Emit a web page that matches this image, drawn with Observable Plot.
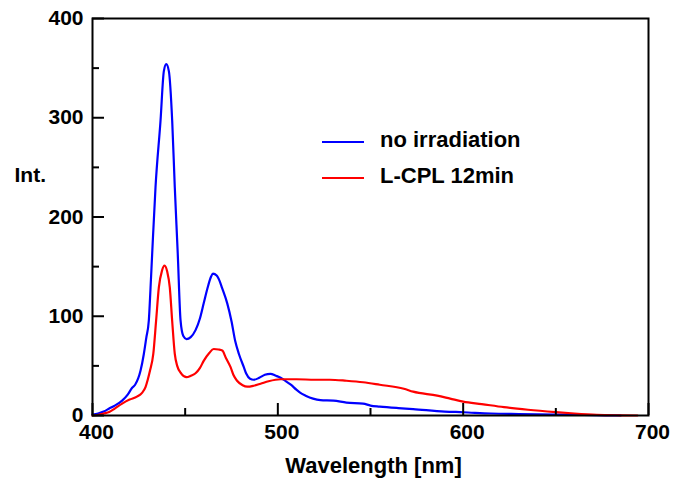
<!DOCTYPE html>
<html>
<head>
<meta charset="utf-8">
<script src="https://cdn.jsdelivr.net/npm/d3@7"></script>
<script src="https://cdn.jsdelivr.net/npm/@observablehq/plot@0.6"></script>
<style>
  body { margin: 0; background: #fff; }
  #wrap { position: relative; width: 675px; height: 479px; font-family: "Liberation Sans", Arial, sans-serif; }
  #legend { position: absolute; left: 322px; top: 122px; font-weight: bold; font-size: 22px; color: #000; }
  #legend .row { display: flex; align-items: center; height: 36px; }
  #legend .sw { width: 42px; height: 0; border-top: 2px solid; margin-right: 16px; margin-top: 3px; }
</style>
</head>
<body>
<div id="wrap"></div>
<script>
// Wavelength (nm) and intensity for each series
const blueWl = [400,403,406,409,412,416,419,421.4,423,425.9,427.7,429,430.4,431.3,432.2,434,436.7,438.5,439.8,441.2,443,444.4,446,447.5,449,450.7,453,455.6,458,460,462,464,465,467,468,470,472.7,475,477,479,481.6,483,485,487,490,493,496,499,501.5,504,507,510,512,515,519,523,530,537,546,550,555,565,573,590,600,615,630,650,665,685];
const blueInt = [1,2,4,7,10,15,21,28,31,45,62,78,96,128,163,230,297,347,354,347,297,230,163,96,80,77,79,86,98,113,128,140,143,141,138,128,113,95,75,62,49,42,37,36,38,41,42,40,38,35,31,26,23,20,17,15.5,15,13,12,10,9,7.5,6.5,4,3.3,2,1.5,1,0.5,0];

const redWl = [400,403,406,409,412,416,420,424,426.6,428.6,429.8,431,432.8,434.3,435.8,437.5,438.9,440.3,441.7,443,444.4,445.7,448,450.7,453,455.6,458,460,463,465.4,468,470,472,474.5,476,478,481,483.5,487,490.7,495,501.5,510,520,528,537,546,555,568,573,586,593,600,610,622,635,650,660,672,685,694];
const redInt = [0,0.5,2,3.5,7,12,16,19,22.5,28.6,36,45,62,95,129,146,151,145,129,95,62,50,42,38.6,40,42.6,48,55,63,67,66.5,65.5,58,48.7,41,35,30.5,29,30,32,34.5,36.5,36.5,36,36,35,33.5,31,27,24,20,17,14,11.5,8.4,5.8,3.4,2,0.7,0.2,0];

const seriesNames = ["no irradiation", "L-CPL 12min"];
const seriesColors = ["#0000ff", "#ff0000"];

const yMajor = [0,100,200,300,400];
const yMinor = [50,150,250,350];
const xMajor = [400,500,600,700];
const xMinor = [450,550,650];

const rows = [
  ...blueWl.map((w,i) => ({wl: w, v: blueInt[i], s: seriesNames[0]})),
  ...redWl.map((w,i) => ({wl: w, v: redInt[i], s: seriesNames[1]}))
];

const W = 675, H = 479, mL = 92, mR = 27, mT = 18, mB = 64;
const fw = W - mL - mR, fh = H - mT - mB;
const font = "Liberation Sans, Arial, sans-serif";

const chart = Plot.plot({
  width: W, height: H,
  marginLeft: mL, marginRight: mR, marginTop: mT, marginBottom: mB,
  style: {fontFamily: font, background: "#fff", overflow: "visible"},
  x: {domain: [400,700], axis: null},
  y: {domain: [0,400], axis: null},
  color: {domain: seriesNames, range: seriesColors},
  marks: [
    Plot.line(rows, {x: "wl", y: "v", z: "s", stroke: "s", strokeWidth: 2.2, curve: "monotone-x"}),
    // inward ticks
    Plot.tickY(yMajor, {y: d => d, stroke: "#000", strokeWidth: 2, insetRight: fw - 12}),
    Plot.tickY(yMinor, {y: d => d, stroke: "#000", strokeWidth: 2, insetRight: fw - 7}),
    Plot.tickX(xMajor, {x: d => d, stroke: "#000", strokeWidth: 2, insetTop: fh - 12}),
    Plot.tickX(xMinor, {x: d => d, stroke: "#000", strokeWidth: 2, insetTop: fh - 7}),
    Plot.frame({stroke: "#000", strokeWidth: 2}),
    // tick labels
    Plot.axisY(yMajor, {tickSize: 0, tickPadding: 9, fontSize: 21, fontWeight: "bold", fill: "#000", label: null}),
    Plot.axisX(xMajor, {tickSize: 0, tickPadding: 9, dx: 4, fontSize: 21, fontWeight: "bold", fill: "#000", label: null}),
    // axis titles
    Plot.text(["Int."], {text: d => d, frameAnchor: "top-left", dx: -78, dy: 157, textAnchor: "start", lineAnchor: "middle", fontSize: 21, fontWeight: "bold", fill: "#000"}),
    Plot.text(["Wavelength [nm]"], {text: d => d, frameAnchor: "bottom", dx: 3, dy: 50, textAnchor: "middle", lineAnchor: "middle", fontSize: 22, fontWeight: "bold", fill: "#000"})
  ]
});

const wrap = document.getElementById("wrap");
wrap.appendChild(chart);
const legend = document.createElement("div");
legend.id = "legend";
seriesNames.forEach((n, i) => {
  const row = document.createElement("div");
  row.className = "row";
  const sw = document.createElement("span");
  sw.className = "sw";
  sw.style.borderColor = seriesColors[i];
  const t = document.createElement("span");
  t.textContent = n;
  row.appendChild(sw); row.appendChild(t);
  legend.appendChild(row);
});
wrap.appendChild(legend);
</script>
</body>
</html>
